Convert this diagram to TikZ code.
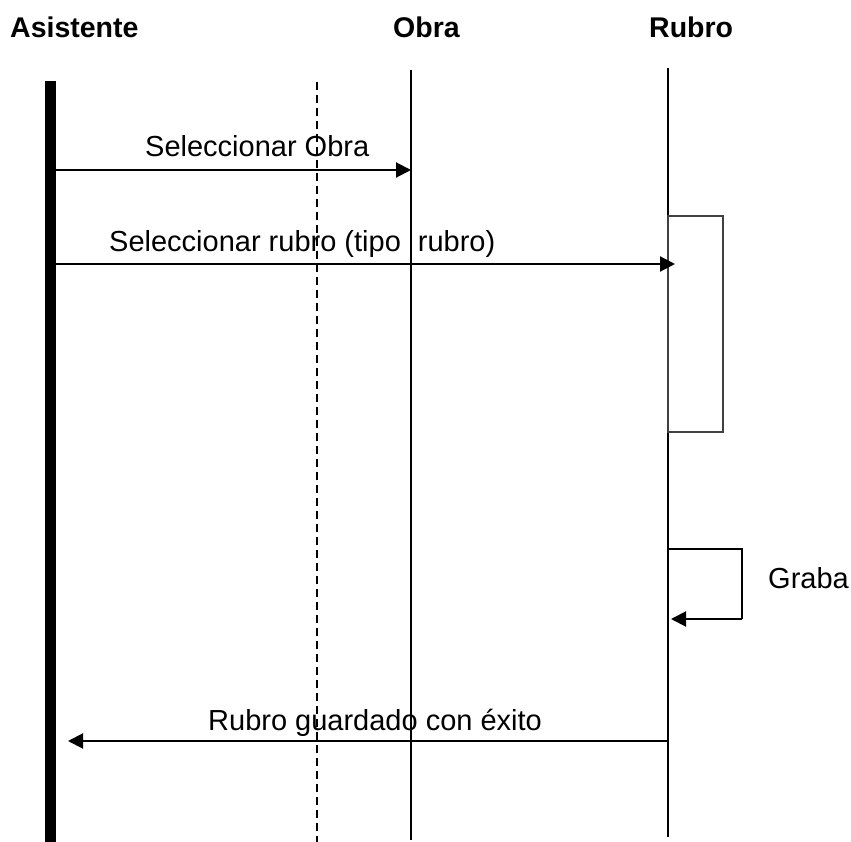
\documentclass[tikz,border=0pt]{standalone}
\usepackage{fontspec}
\setmainfont{Liberation Sans}
\usetikzlibrary{arrows.meta}
\begin{document}
\begin{tikzpicture}[x=1pt,y=-1pt,
  title/.style={font=\fontsize{28.5}{34}\selectfont\bfseries, anchor=base west, inner sep=0pt},
  msglabel/.style={font=\fontsize{29}{34}\selectfont, anchor=base west, inner sep=0pt},
  lifeline/.style={line width=1.5pt},
  msg/.style={line width=2pt, -{Triangle[length=15pt,width=15pt]}},
  actbox/.style={draw=black!75, line width=1.5pt}]
\useasboundingbox (0,0) rectangle (851,842);
% titles
\node[title] (tA) at (10,38) {Asistente};
\node[title] (tO) at (393,38) {Obra};
\node[title] (tR) at (649,38) {Rubro};
% lifelines
\fill (45,81) rectangle (56,842);
\coordinate (dtop) at (317,82);
\coordinate (dbot) at (317,842);
\draw[lifeline, dash pattern=on 8pt off 5pt] (dtop) -- (dbot);
\coordinate (otop) at (411,70);
\coordinate (obot) at (411,840);
\draw[lifeline] (otop) -- (obot);
\coordinate (rtop) at (668,68);
\coordinate (rbot) at (668,837);
\draw[lifeline] (rtop) -- (rbot);
% activation box
\draw[actbox] (668,216) rectangle (723,432);
% message 1
\coordinate (m1s) at (56,170);
\coordinate (m1e) at (411,170);
\draw[msg] (m1s) -- (m1e);
\node[msglabel] (l1) at (145,157) {Seleccionar Obra};
% message 2
\coordinate (m2s) at (56,264);
\coordinate (m2e) at (675,264);
\draw[msg] (m2s) -- (m2e);
\node[msglabel] (l2) at (109,252) {Seleccionar rubro (tipo\hspace{9pt} rubro)};
% self loop
\coordinate (g1) at (668,549);
\coordinate (g2) at (742,549);
\coordinate (g3) at (742,619);
\coordinate (g4) at (671,619);
\draw[line width=2pt] (g1) -- (g2) -- (g3);
\draw[msg] (g3) -- (g4);
\node[msglabel] (lg) at (768,588) {Graba};
% return message
\coordinate (m3s) at (668,741);
\coordinate (m3e) at (68,741);
\draw[msg] (m3s) -- (m3e);
\node[msglabel] (l3) at (208,730) {Rubro guardado con éxito};
\end{tikzpicture}
\end{document}
